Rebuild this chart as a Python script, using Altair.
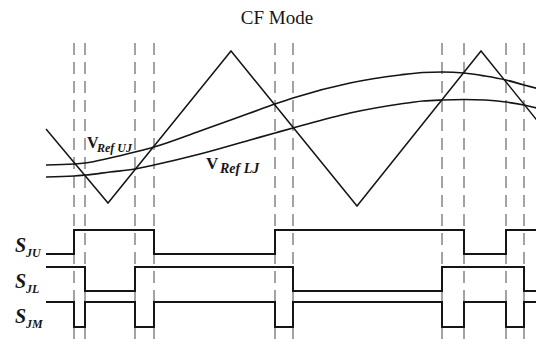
import altair as alt
import pandas as pd

# ---------------- data ----------------
# switching instants (dashed guide lines)
switch_t = [74, 85, 135, 154, 275, 293, 442, 464, 506, 524]

# triangular carrier (vertices)
carrier_t = [46, 108, 231, 357, 481, 544]
carrier_v = [129, 203, 51, 206, 51, 129]

# reference signals V_Ref UJ and V_Ref LJ
ref_t = [46, 74, 85, 110, 135, 154, 200, 250, 275, 293, 350, 400, 423, 442, 464, 485, 506, 524, 544]
ref_uj = [165, 164, 163, 158, 152, 147, 131, 113, 104, 98, 83, 75, 72.5, 72, 73, 76, 80, 85, 90]
ref_lj = [177, 176, 175, 172, 169, 165, 154, 140, 133, 128, 113, 104, 101, 100, 99.5, 100, 102, 105, 110]

# gate signals (logic levels at each transition instant)
sju_t = [46, 74, 154, 275, 464, 506, 544]
sju = [0, 1, 0, 1, 0, 1, 1]
sjl_t = [46, 85, 135, 293, 442, 524, 544]
sjl = [1, 0, 1, 0, 1, 0, 0]
sjm_t = [46, 74, 85, 135, 154, 275, 293, 442, 464, 506, 524, 544]
sjm = [1, 0, 1, 0, 1, 0, 1, 0, 1, 0, 1, 1]

signal_names = ["JU", "JL", "JM"]

# ---------------- layout (drawing rows) ----------------
rows = {"JU": (254, 24), "JL": (291, 24), "JM": (327, 25)}

xs = alt.Scale(domain=[8, 536], nice=False, zero=False)
ys = alt.Scale(domain=[8, 339], nice=False, zero=False, reverse=True)
INK = "#151515"
SERIF = "Liberation Serif"

def X(f="x"):
    return alt.X(f"{f}:Q", scale=xs, axis=None)

def Y(f="y"):
    return alt.Y(f"{f}:Q", scale=ys, axis=None)

# dashed guides
dash_df = pd.DataFrame({"x": switch_t, "y": [43] * len(switch_t), "y2": [347] * len(switch_t)})
dashes = alt.Chart(dash_df).mark_rule(
    color="#858585", strokeWidth=1.5, strokeDash=[12, 7]
).encode(x=X(), y=Y(), y2="y2:Q")

carrier_df = pd.DataFrame({"x": carrier_t, "y": carrier_v})
carrier = alt.Chart(carrier_df).mark_line(color=INK, strokeWidth=1.5).encode(x=X(), y=Y())

ref_df = pd.concat([
    pd.DataFrame({"x": ref_t, "y": ref_uj, "s": "UJ"}),
    pd.DataFrame({"x": ref_t, "y": ref_lj, "s": "LJ"}),
])
refs = alt.Chart(ref_df).mark_line(color=INK, strokeWidth=1.7, interpolate="monotone").encode(
    x=X(), y=Y(), detail="s:N"
)

sig_parts = []
for name, ts, lv in zip(signal_names, [sju_t, sjl_t, sjm_t], [sju, sjl, sjm]):
    base, amp = rows[name]
    sig_parts.append(pd.DataFrame({"x": ts, "y": [base - v * amp for v in lv], "s": name,
                                   "o": list(range(len(ts)))}))
sig_df = pd.concat(sig_parts)
signals = alt.Chart(sig_df).mark_line(color=INK, strokeWidth=2, interpolate="step-after").encode(
    x=X(), y=Y(), detail="s:N", order="o:Q"
)

def label(txt, x, y, size, weight="normal", style="normal", align="left", baseline="alphabetic"):
    df = pd.DataFrame({"x": [x], "y": [y], "t": [txt]})
    return alt.Chart(df).mark_text(
        font=SERIF, fontSize=size, fontWeight=weight, fontStyle=style,
        align=align, baseline=baseline, color=INK
    ).encode(x=X(), y=Y(), text="t:N")

texts = [
    label("CF Mode", 277, 9, 19, align="center", baseline="top"),
    label("V", 87, 148, 16, weight="bold"),
    label("Ref UJ", 97, 152, 12, weight="bold", style="italic"),
    label("V", 206, 169, 17, weight="bold"),
    label("Ref LJ", 220, 173, 14, weight="bold", style="italic"),
]
for name, sy in zip(signal_names, [252, 288, 323]):
    texts.append(label("S", 15, sy, 20, weight="bold", style="italic"))
    texts.append(label(name, 26, sy + 5, 12, weight="bold", style="italic"))

chart = alt.layer(dashes, carrier, refs, signals, *texts).properties(
    width=528, height=331, padding=0,
    autosize=alt.AutoSizeParams(type="none")
).configure_view(strokeWidth=0)

chart.save("out.html", embed_options={"renderer": "svg", "actions": False})
